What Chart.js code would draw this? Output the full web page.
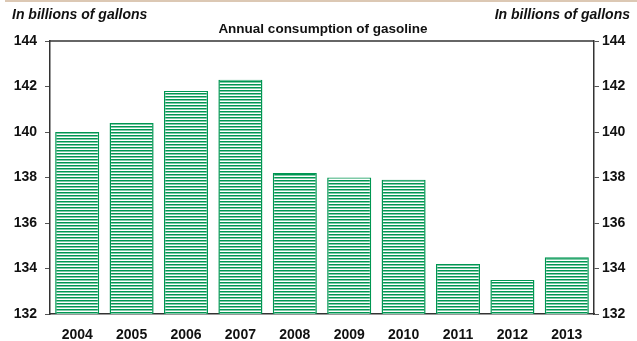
<!DOCTYPE html>
<html>
<head>
<meta charset="utf-8">
<script src="https://cdn.jsdelivr.net/npm/chart.js@4"></script>
<style>
  body { margin: 0; background: #fff; }
  canvas { display: block; }
</style>
</head>
<body>
<canvas id="chart" width="637" height="341"></canvas>
<script>
const years = ['2004', '2005', '2006', '2007', '2008', '2009', '2010', '2011', '2012', '2013'];
const consumption = [140.0, 140.4, 141.8, 142.3, 138.2, 138.0, 137.9, 134.2, 133.5, 134.5];
const yMin = 132;
const yMax = 144;
const yStep = 2;

const FONT = 'Arial, "Liberation Sans", sans-serif';
const GREEN = '#009652';

// horizontal stripe fill
function makeStripes() {
    const c = document.createElement('canvas');
    c.width = 4;
    c.height = 3;
    const g = c.getContext('2d');
    g.fillStyle = '#fff';
    g.fillRect(0, 0, 4, 3);
    g.fillStyle = GREEN;
    g.fillRect(0, 0, 4, 1.5);
    return g.createPattern(c, 'repeat');
}

const ctx = document.getElementById('chart').getContext('2d');
const stripes = makeStripes();

const labelsPlugin = {
    id: 'labels',
    afterDraw(chart) {
        const c = chart.ctx;
        const a = chart.chartArea;
        c.save();
        // beige rule at the very top
        c.fillStyle = '#dcc8b4';
        c.fillRect(5, 0, 632, 2);
        // top frame line
        c.strokeStyle = '#333';
        c.lineWidth = 1.5;
        c.beginPath();
        c.moveTo(a.left, a.top);
        c.lineTo(a.right, a.top);
        c.stroke();
        c.fillStyle = '#111';
        c.textBaseline = 'middle';
        c.font = 'italic bold 14px ' + FONT;
        c.textAlign = 'left';
        c.fillText('In billions of gallons', 12, 15);
        c.textAlign = 'right';
        c.fillText('In billions of gallons', 630, 15);
        c.font = 'bold 13.5px ' + FONT;
        c.textAlign = 'center';
        c.fillText('Annual consumption of gasoline', 323, 29);
        c.restore();
    }
};

const yAxis = (pos, width) => ({
    type: 'linear',
    position: pos,
    min: yMin,
    max: yMax,
    ticks: {
        stepSize: yStep,
        color: '#111',
        font: { family: FONT, size: 14, weight: 'bold' },
        padding: pos === 'left' ? 8 : 3
    },
    grid: { drawOnChartArea: false, tickLength: 5, color: '#555' },
    border: { display: true, color: '#333', width: 1.5 },
    afterFit(scale) { scale.width = width; }
});

new Chart(ctx, {
    type: 'bar',
    data: {
        labels: years,
        datasets: [{
            data: consumption,
            backgroundColor: stripes,
            borderColor: GREEN,
            borderWidth: { left: 1.5, right: 1.5, top: 1, bottom: 0 },
            borderSkipped: 'bottom',
            barPercentage: 0.81,
            categoryPercentage: 1.0,
            yAxisID: 'y'
        }]
    },
    options: {
        responsive: false,
        animation: false,
        layout: { padding: { top: 41, left: 0, right: 0, bottom: 0 } },
        plugins: {
            legend: { display: false },
            tooltip: { enabled: false }
        },
        scales: {
            x: {
                offset: true,
                ticks: {
                    color: '#111',
                    font: { family: FONT, size: 14, weight: 'bold' },
                    padding: 5
                },
                grid: { display: false },
                border: { display: true, color: '#333', width: 1.5 },
                afterFit(scale) { scale.height = 27; }
            },
            y: yAxis('left', 50),
            y2: yAxis('right', 43)
        }
    },
    plugins: [labelsPlugin]
});
</script>
</body>
</html>
